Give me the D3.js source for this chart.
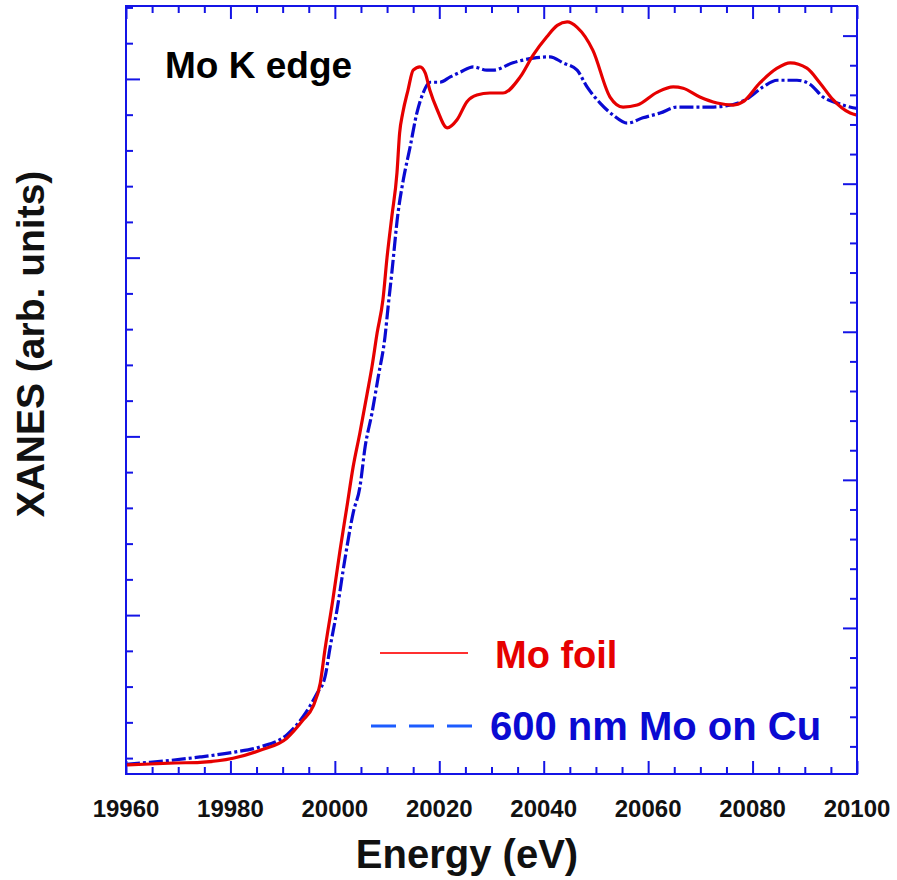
<!DOCTYPE html>
<html>
<head>
<meta charset="utf-8">
<script src="https://cdn.jsdelivr.net/npm/d3@7"></script>
<style>
  html, body { margin: 0; padding: 0; background: #fff; }
  svg { display: block; }
  text { font-family: "Liberation Sans", Arial, sans-serif; font-weight: bold; }
</style>
</head>
<body>
<svg id="chart" width="897" height="880"></svg>
<script>
// ---- data ----
const xTickLabels = [19960, 19980, 20000, 20020, 20040, 20060, 20080, 20100];

const foilEnergy = [19960, 19964.6, 19969.4, 19974.2, 19980.5, 19985.7, 19990.8, 19993.9, 19995.8, 19997.2,
  19998.1, 19999.6, 20001.0, 20002.3, 20003.5, 20004.8, 20006.2, 20007.1, 20008.1, 20009.2,
  20010.0, 20010.9, 20011.9, 20012.4, 20013.0, 20014.0, 20015.0, 20016.3, 20017.3, 20018.2,
  20019.6, 20021.5, 20023.4, 20025.3, 20027.2, 20029.7, 20032.2, 20035.5, 20038.0, 20040.6,
  20042.6, 20044.5, 20046.4, 20049.4, 20052.7, 20055.2, 20057.9, 20061.7, 20064.8, 20066.7,
  20069.9, 20073.2, 20076.3, 20078.2, 20081.4, 20084.7, 20087.2, 20090.4, 20092.9, 20095.4,
  20098.7, 20100.0];
const foilXanes = [0.000, 0.0015, 0.003, 0.004, 0.010, 0.022, 0.040, 0.067, 0.087, 0.122,
  0.172, 0.246, 0.321, 0.385, 0.445, 0.496, 0.555, 0.594, 0.645, 0.694,
  0.758, 0.818, 0.884, 0.943, 0.973, 1.007, 1.037, 1.042, 1.033, 1.007,
  0.978, 0.951, 0.963, 0.990, 1.000, 1.003, 1.003, 1.027, 1.060, 1.087,
  1.104, 1.109, 1.101, 1.067, 0.997, 0.982, 0.985, 1.004, 1.012, 1.010,
  0.997, 0.988, 0.985, 0.990, 1.018, 1.040, 1.048, 1.040, 1.018, 0.993,
  0.973, 0.970];

const filmEnergy = [19960, 19964.6, 19974.2, 19980.5, 19985.7, 19990.8, 19993.9, 19996.6, 19998.1, 19999.1,
  20000.4, 20001.9, 20003.5, 20004.8, 20005.8, 20007.1, 20008.3, 20009.6, 20010.2, 20010.9,
  20012.1, 20013.1, 20014.4, 20015.7, 20016.9, 20018.2, 20020.1, 20022.1, 20024.0, 20026.5,
  20029.1, 20030.3, 20034.1, 20038.0, 20041.2, 20043.7, 20046.4, 20048.3, 20050.8, 20053.3,
  20056.0, 20059.0, 20062.3, 20065.5, 20068.0, 20071.9, 20075.1, 20078.9, 20082.0, 20084.7,
  20088.5, 20091.0, 20093.5, 20096.2, 20099.2, 20100.0];
const filmXanes = [0.001, 0.004, 0.012, 0.019, 0.027, 0.045, 0.072, 0.107, 0.131, 0.176,
  0.231, 0.306, 0.376, 0.415, 0.475, 0.525, 0.579, 0.639, 0.684, 0.734,
  0.824, 0.873, 0.922, 0.973, 1.003, 1.019, 1.019, 1.027, 1.034, 1.042,
  1.037, 1.037, 1.048, 1.055, 1.057, 1.048, 1.037, 1.012, 0.988, 0.970,
  0.958, 0.966, 0.973, 0.982, 0.982, 0.982, 0.984, 0.994, 1.012, 1.022,
  1.022, 1.016, 0.997, 0.988, 0.981, 0.980];

const seriesNames = ["Mo foil", "600 nm Mo on Cu"];

// ---- layout ----
const svg = d3.select("#chart");
const L = 126, R = 857, T = 6, B = 774;
const frameColor = "#1414e6";

const x = d3.scaleLinear().domain([19960, 20100]).range([L, R]);
const y = d3.scaleLinear().domain([-0.01343, 1.13284]).range([B, T]);
// tick-only scales for left and right frames (unlabelled)
const yLeft = d3.scaleLinear().domain([0.111, 4.408]).range([B, T]);
const yRight = d3.scaleLinear().domain([0.0135, 5.2]).range([B, T]);

svg.append("defs").append("clipPath").attr("id", "clip")
  .append("rect").attr("x", L).attr("y", T).attr("width", R - L).attr("height", B - T);

// ---- axes ticks ----
const minorX = d3.range(19965, 20100, 5).filter(v => v % 20 !== 0);
function addAxis(axisGen, transform) {
  const g = svg.append("g").attr("transform", transform).call(axisGen);
  g.select(".domain").remove();
  g.selectAll("line").attr("stroke", frameColor).attr("stroke-width", 2);
  return g;
}
addAxis(d3.axisBottom(x).tickValues(xTickLabels).tickSize(-13).tickFormat(""), `translate(0,${B})`);
addAxis(d3.axisBottom(x).tickValues(minorX).tickSize(-7).tickFormat(""), `translate(0,${B})`);
addAxis(d3.axisTop(x).tickValues(xTickLabels).tickSize(-13).tickFormat(""), `translate(0,${T})`);
addAxis(d3.axisTop(x).tickValues(minorX).tickSize(-7).tickFormat(""), `translate(0,${T})`);

const leftMajor = [1, 2, 3, 4];
const leftMinor = d3.range(0.2, 4.41, 0.2).map(v => +v.toFixed(1)).filter(v => Math.abs(v - Math.round(v)) > 1e-6);
addAxis(d3.axisLeft(yLeft).tickValues(leftMajor).tickSize(-14).tickFormat(""), `translate(${L},0)`);
addAxis(d3.axisLeft(yLeft).tickValues(leftMinor).tickSize(-7).tickFormat(""), `translate(${L},0)`);

const rightMajor = [1, 2, 3, 4, 5];
const rightMinor = d3.range(0.2, 5.19, 0.2).map(v => +v.toFixed(1)).filter(v => Math.abs(v - Math.round(v)) > 1e-6);
addAxis(d3.axisRight(yRight).tickValues(rightMajor).tickSize(-14).tickFormat(""), `translate(${R},0)`);
addAxis(d3.axisRight(yRight).tickValues(rightMinor).tickSize(-7).tickFormat(""), `translate(${R},0)`);

// tick labels
svg.append("g").selectAll("text").data(xTickLabels).join("text")
  .attr("x", d => x(d)).attr("y", 817)
  .attr("text-anchor", "middle").attr("font-size", 24).attr("fill", "#111")
  .text(d => d);

// ---- curves ----
const line = d3.line().x(d => x(d[0])).y(d => y(d[1])).curve(d3.curveMonotoneX);
const foil = foilEnergy.map((e, i) => [e, foilXanes[i]]);
const film = filmEnergy.map((e, i) => [e, filmXanes[i]]);

const plot = svg.append("g").attr("clip-path", "url(#clip)");
plot.append("path").datum(film).attr("d", line)
  .attr("fill", "none").attr("stroke", "#0a0ad2").attr("stroke-width", 3.2)
  .attr("stroke-dasharray", "14,3,3,3");
plot.append("path").datum(foil).attr("d", line)
  .attr("fill", "none").attr("stroke", "#e60000").attr("stroke-width", 3.2);

// ---- frame ----
svg.append("rect").attr("x", L).attr("y", T).attr("width", R - L).attr("height", B - T)
  .attr("fill", "none").attr("stroke", frameColor).attr("stroke-width", 2);

// ---- texts ----
svg.append("text").attr("x", 165).attr("y", 78).attr("font-size", 37).attr("fill", "#000")
  .text("Mo K edge");
svg.append("text").attr("x", 467).attr("y", 868).attr("text-anchor", "middle")
  .attr("font-size", 40).attr("fill", "#111").text("Energy (eV)");
svg.append("text").attr("transform", "translate(44,344) rotate(-90)").attr("text-anchor", "middle")
  .attr("font-size", 39).attr("fill", "#111").text("XANES (arb. units)");

// ---- legend ----
svg.append("line").attr("x1", 380).attr("x2", 468).attr("y1", 653).attr("y2", 653)
  .attr("stroke", "#ff3030").attr("stroke-width", 2);
svg.append("text").attr("x", 495).attr("y", 668).attr("font-size", 38).attr("fill", "#e60000")
  .text(seriesNames[0]);
svg.append("line").attr("x1", 371).attr("x2", 473).attr("y1", 726).attr("y2", 726)
  .attr("stroke", "#1c5cff").attr("stroke-width", 3).attr("stroke-dasharray", "25,13");
svg.append("text").attr("x", 490).attr("y", 740).attr("font-size", 40).attr("fill", "#0a0ad2")
  .text(seriesNames[1]);
</script>
</body>
</html>
